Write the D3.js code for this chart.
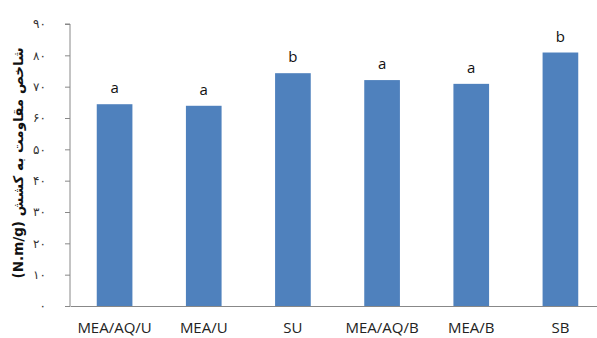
<!DOCTYPE html>
<html>
<head>
<meta charset="utf-8">
<script src="https://cdn.jsdelivr.net/npm/d3@7"></script>
<style>
  html, body { margin: 0; padding: 0; background: #fff; }
  svg { display: block; }
</style>
</head>
<body>
<svg id="chart" width="597" height="338"></svg>
<script>
// Tensile index per treatment
const categories = ["MEA/AQ/U", "MEA/U", "SU", "MEA/AQ/B", "MEA/B", "SB"];
const values = [64.4, 63.9, 74.3, 72.1, 70.9, 80.9];
const groups = ["a", "a", "b", "a", "a", "b"];
const tickValues = [0, 10, 20, 30, 40, 50, 60, 70, 80, 90];
const tickLabels = ["۰", "۱۰", "۲۰", "۳۰", "۴۰", "۵۰", "۶۰", "۷۰", "۸۰", "۹۰"];
const yTitle = "شاخص مقاومت به کشش (N.m/g)";

const svg = d3.select("#chart");
const plotLeft = 70, plotRight = 605, plotTop = 24, plotBottom = 306;
const font = "'Open Sans', 'Liberation Sans', sans-serif";

const x = d3.scaleBand().domain(categories).range([plotLeft, plotRight]).paddingInner(0.6).paddingOuter(0.3);
const y = d3.scaleLinear().domain([0, 90]).range([plotBottom, plotTop]);

// bars
svg.append("g").selectAll("rect")
  .data(categories)
  .join("rect")
  .attr("x", d => x(d))
  .attr("width", x.bandwidth())
  .attr("y", (d, i) => y(values[i]))
  .attr("height", (d, i) => y(0) - y(values[i]))
  .attr("fill", "#4F81BD");

// significance letters
svg.append("g").selectAll("text")
  .data(categories)
  .join("text")
  .attr("x", d => x(d) + x.bandwidth() / 2)
  .attr("y", (d, i) => y(values[i]) - 11)
  .attr("text-anchor", "middle")
  .attr("font-family", font)
  .attr("font-size", 15)
  .attr("fill", "#111")
  .text((d, i) => groups[i]);

// y axis
const yAxis = svg.append("g")
  .attr("transform", `translate(${plotLeft},0)`)
  .call(d3.axisLeft(y).tickValues(tickValues).tickSize(5).tickPadding(19)
    .tickFormat((d, i) => tickLabels[i]));
yAxis.select(".domain").attr("stroke", "#888").attr("d", `M-5,${plotTop}H0V${plotBottom}`);
yAxis.selectAll(".tick line").attr("stroke", "#888");
yAxis.selectAll(".tick text")
  .attr("font-family", "'DejaVu Sans', sans-serif")
  .attr("font-size", 12)
  .attr("fill", "#333");

// x axis
const xAxis = svg.append("g")
  .attr("transform", `translate(0,${plotBottom})`)
  .call(d3.axisBottom(x).tickSize(0));
xAxis.select(".domain").attr("stroke", "#888");
xAxis.selectAll(".tick text")
  .attr("y", 27)
  .attr("dy", 0)
  .attr("font-family", font)
  .attr("font-size", 15)
  .attr("fill", "#222");

// y axis title
svg.append("text")
  .attr("transform", `translate(23,163) rotate(-90)`)
  .attr("text-anchor", "middle")
  .attr("direction", "rtl")
  .attr("font-family", "'DejaVu Sans', sans-serif")
  .attr("font-weight", "bold")
  .attr("font-size", 13.5)
  .attr("fill", "#111")
  .text(yTitle);
</script>
</body>
</html>
